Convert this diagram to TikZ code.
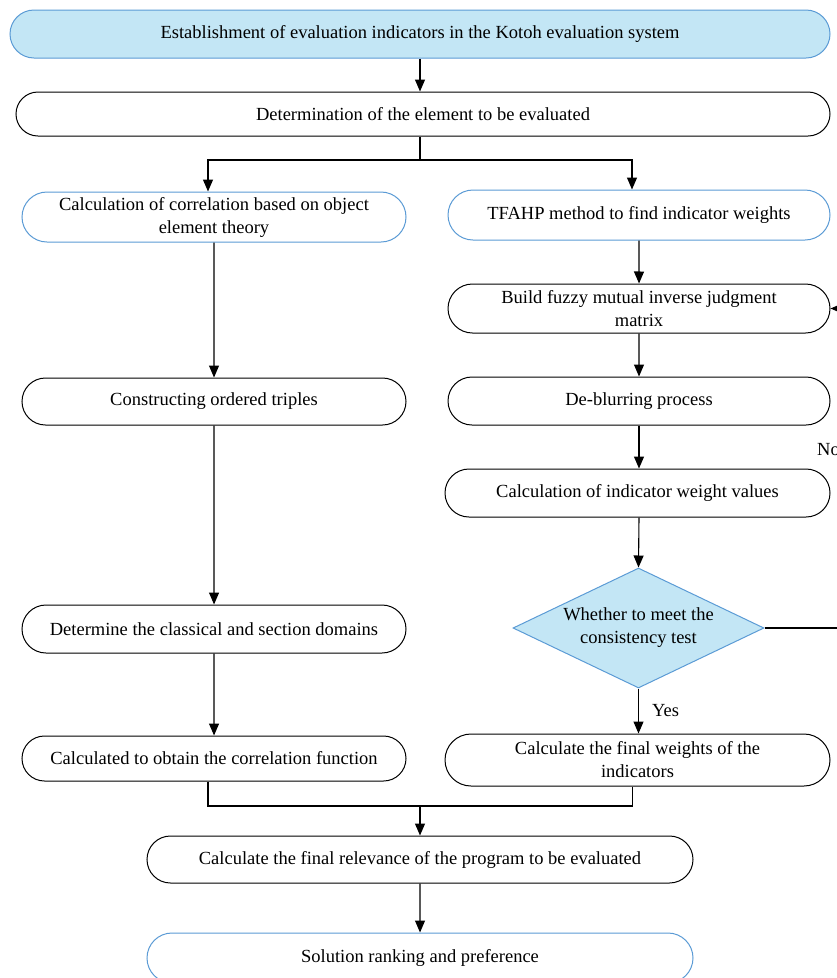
\documentclass[tikz,border=0pt]{standalone}
\usepackage{fontspec}
\setmainfont{Liberation Serif}
\usetikzlibrary{shapes.misc,shapes.geometric,arrows.meta}
\definecolor{lblue}{HTML}{C3E6F5}
\definecolor{bblue}{HTML}{5B9BD5}
\begin{document}
\begin{tikzpicture}[x=1pt,y=-1pt,
  txt/.style={font=\fontsize{18.5}{23}\selectfont},
  box/.style={rounded rectangle, draw=black, line width=1pt, fill=white, align=center, inner sep=0pt, txt},
  bluebox/.style={box, draw=bblue},
  arr/.style={-{Triangle[length=12pt,width=10pt]}, line width=1.1pt},
  ln/.style={line width=1.1pt}]
\useasboundingbox (0,0) rectangle (837,978);
\clip (0,0) rectangle (837,978);
\node[bluebox, fill=lblue, minimum width=820pt, minimum height=48pt] (top) at (420,34) {Establishment of evaluation indicators in the Kotoh evaluation system};
\node[box, minimum width=814pt, minimum height=44pt] (n2) at (423,114) {Determination of the element to be evaluated};
\node[bluebox, minimum width=384pt, minimum height=50pt] (L1) at (214,217) {Calculation of correlation based on object\\element theory};
\node[bluebox, minimum width=382pt, minimum height=50pt] (R1) at (639,215) {TFAHP method to find indicator weights};
\node[box, minimum width=384pt, minimum height=47pt] (L2) at (214,401.5) {Constructing ordered triples};
\node[box, minimum width=384pt, minimum height=48pt] (L3) at (214,629) {Determine the classical and section domains};
\node[box, minimum width=384pt, minimum height=45pt] (L4) at (214,758.5) {Calculated to obtain the correlation function};
\node[box, minimum width=382pt, minimum height=49pt] (R2) at (639,308.5) {Build fuzzy mutual inverse judgment\\matrix};
\node[box, minimum width=382pt, minimum height=48pt] (R3) at (639,401) {De-blurring process};
\node[box, minimum width=385pt, minimum height=48pt] (R4) at (637.5,493) {Calculation of indicator weight values};
\node[diamond, draw=bblue, fill=lblue, line width=1pt, minimum width=251pt, minimum height=120pt, inner sep=0pt] (dia) at (638.5,628) {};
\node[txt, align=center, inner sep=0pt] (diatext) at (dia.center) {Whether to meet the\\consistency test};
\node[box, minimum width=385pt, minimum height=52pt] (R5) at (637.5,760) {Calculate the final weights of the\\indicators};
\node[box, minimum width=546pt, minimum height=47pt] (N3) at (420,859.5) {Calculate the final relevance of the program to be evaluated};
\node[bluebox, minimum width=546pt, minimum height=50pt] (N4) at (420,958) {Solution ranking and preference};
\coordinate (split) at (420,160);
\coordinate (merge) at (420,806);
\coordinate (noc1) at (850,628);
\coordinate (noc2) at (850,308.5);
% connectors
\draw[arr] (top.south) -- (top.south |- n2.north);
\draw[ln] (n2.south -| split) -- (split);
\draw[arr] (split) -| ([xshift=-6pt]L1.north);
\draw[arr] (split) -| ([xshift=-7pt]R1.north);
\draw[arr] (L1) -- (L2);
\draw[arr] (L2) -- (L3);
\draw[arr] (L3) -- (L4);
\draw[arr] (R1) -- (R2);
\draw[arr] (R2) -- (R3);
\draw[arr] (R3.south) -- (R3.south |- R4.north);
\draw[arr] (R3.south |- R4.south) -- (dia.north);
\draw[arr] (dia.south) -- (dia.south |- R5.north) node[midway, right=13pt, txt, inner sep=0pt] (yes) {Yes};
\draw[arr] (dia.east) -- (noc1) -- (noc2) -- (R2.east);
\node[anchor=west, txt, inner sep=0pt] (no) at (817,450) {No};
\draw[ln] ([xshift=-6pt]L4.south) |- (merge);
\draw[ln] ([xshift=-5pt]R5.south) |- (merge);
\draw[arr] (merge) -- (N3.north);
\draw[arr] (N3) -- (N4);
\end{tikzpicture}
\end{document}
